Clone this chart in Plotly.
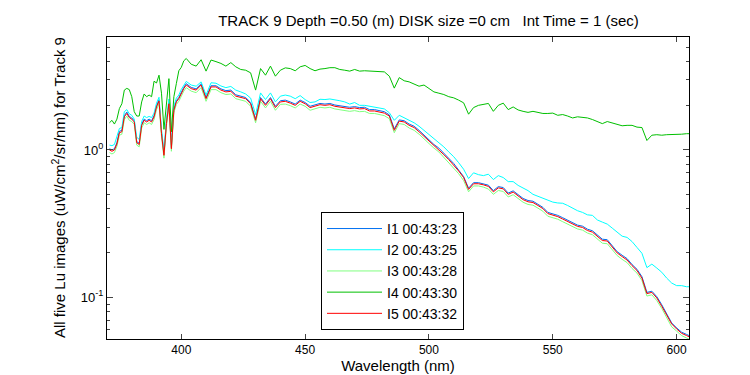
import plotly.graph_objects as go

wavelength = (list(range(371, 403)) + list(range(404, 605, 2)) + [605])

I1 = [1.02,1.00,1.02,1.12,1.34,1.36,1.71,1.81,1.69,1.65,1.58,1.14,1.11,1.50,1.62,1.58,1.62,1.58,1.71,2.00,2.19,1.32,0.94,1.54,2.10,1.04,1.90,2.16,2.27,2.49,2.66,2.82,
      2.66,2.60,2.82,2.27,2.73,2.73,2.60,2.53,2.55,2.37,2.32,2.27,2.10,1.62,2.27,2.05,2.27,1.98,2.16,2.18,
      2.12,2.05,2.18,2.10,1.98,2.02,2.07,2.05,2.07,2.02,2.00,1.98,1.95,1.97,1.94,1.95,1.88,1.88,1.85,1.82,
      1.73,1.39,1.60,1.58,1.50,1.45,1.36,1.26,1.17,1.09,1.03,0.95,0.88,0.81,0.73,0.66,0.55,0.60,0.60,0.59,
      0.577,0.53,0.564,0.556,0.51,0.528,0.50,0.469,0.454,0.449,0.428,0.408,0.377,0.370,0.360,0.347,0.334,0.319,0.309,0.304,
      0.290,0.283,0.263,0.248,0.246,0.225,0.204,0.193,0.183,0.167,0.155,0.138,0.108,0.110,0.101,0.089,0.078,0.067,0.062,0.058,0.056,0.055]

I2 = [1.08,1.07,1.09,1.22,1.40,1.42,1.82,1.88,1.76,1.72,1.62,1.22,1.18,1.56,1.70,1.66,1.69,1.66,1.78,2.08,2.28,1.38,0.99,1.62,2.22,1.09,1.98,2.25,2.36,2.58,2.76,2.92,
      2.76,2.71,2.90,2.36,2.86,2.84,2.72,2.65,2.70,2.55,2.48,2.40,2.25,1.74,2.44,2.20,2.44,2.12,2.32,2.36,
      2.32,2.23,2.34,2.20,2.10,2.12,2.21,2.20,2.22,2.20,2.16,2.12,2.05,2.10,2.01,2.01,1.98,1.96,1.94,1.90,
      1.79,1.59,1.72,1.66,1.59,1.53,1.45,1.36,1.28,1.19,1.12,1.05,0.97,0.90,0.82,0.74,0.64,0.70,0.68,0.67,
      0.685,0.63,0.67,0.65,0.61,0.61,0.575,0.55,0.53,0.50,0.485,0.465,0.452,0.443,0.437,0.435,0.42,0.403,0.387,0.377,
      0.363,0.36,0.335,0.324,0.314,0.295,0.276,0.26,0.255,0.239,0.218,0.199,0.159,0.168,0.158,0.148,0.135,0.125,0.12,0.12,0.118,0.118]

I3 = [0.96,0.94,0.96,1.06,1.26,1.28,1.61,1.70,1.59,1.56,1.49,1.08,1.05,1.41,1.53,1.49,1.53,1.49,1.61,1.88,2.06,1.24,0.88,1.45,1.98,0.98,1.79,2.04,2.14,2.34,2.51,2.65,
      2.51,2.45,2.65,2.14,2.57,2.57,2.45,2.38,2.40,2.23,2.18,2.14,1.98,1.53,2.14,1.93,2.14,1.86,2.04,2.05,
      2.00,1.93,2.05,1.98,1.86,1.90,1.95,1.93,1.95,1.90,1.88,1.86,1.83,1.85,1.82,1.83,1.77,1.77,1.74,1.71,
      1.63,1.31,1.51,1.49,1.41,1.36,1.28,1.19,1.10,1.03,0.97,0.89,0.83,0.76,0.69,0.62,0.52,0.57,0.57,0.56,
      0.543,0.50,0.531,0.523,0.48,0.497,0.47,0.442,0.427,0.422,0.403,0.384,0.355,0.348,0.339,0.326,0.314,0.300,0.291,0.286,
      0.273,0.266,0.248,0.233,0.231,0.212,0.192,0.181,0.172,0.157,0.146,0.130,0.102,0.104,0.095,0.084,0.073,0.063,0.059,0.055,0.053,0.052]

I4 = [1.53,1.59,1.50,1.62,1.91,2.06,2.55,2.62,2.57,2.30,1.82,1.70,1.70,2.12,2.40,2.30,2.36,2.30,2.93,2.85,3.22,2.43,1.38,2.06,3.05,1.33,2.30,2.82,3.45,3.64,4.03,4.18,
      3.82,3.71,4.10,3.43,4.08,3.98,3.87,3.71,3.92,3.67,3.52,3.48,3.34,2.55,3.57,3.22,3.71,3.17,3.48,3.61,
      3.57,3.45,3.67,3.75,3.57,3.45,3.54,3.57,3.62,3.62,3.52,3.48,3.43,3.52,3.43,3.45,3.44,3.45,3.44,3.39,
      3.17,2.63,3.10,2.95,2.90,2.82,2.71,2.76,2.62,2.48,2.43,2.38,2.30,2.26,2.18,2.09,1.75,1.94,2.01,2.05,
      2.07,1.83,2.01,2.08,1.88,1.96,1.87,1.83,1.80,1.83,1.80,1.77,1.77,1.78,1.72,1.74,1.70,1.65,1.68,1.67,
      1.65,1.61,1.56,1.51,1.56,1.53,1.50,1.46,1.47,1.47,1.43,1.42,1.16,1.26,1.27,1.26,1.27,1.27,1.27,1.28,1.29,1.29]

I5 = [1.00,0.98,1.00,1.10,1.31,1.33,1.68,1.77,1.66,1.62,1.55,1.12,1.09,1.47,1.59,1.55,1.59,1.55,1.68,1.96,2.15,1.29,0.92,1.51,2.06,1.02,1.86,2.12,2.23,2.44,2.61,2.76,
      2.61,2.55,2.76,2.23,2.68,2.68,2.55,2.48,2.50,2.32,2.27,2.23,2.06,1.59,2.23,2.01,2.23,1.94,2.12,2.14,
      2.08,2.01,2.14,2.06,1.94,1.98,2.03,2.01,2.03,1.98,1.96,1.94,1.91,1.93,1.90,1.91,1.84,1.84,1.81,1.78,
      1.70,1.36,1.57,1.55,1.47,1.42,1.33,1.24,1.15,1.07,1.01,0.93,0.86,0.79,0.72,0.65,0.54,0.59,0.59,0.58,
      0.566,0.52,0.553,0.545,0.50,0.518,0.49,0.46,0.445,0.44,0.42,0.40,0.37,0.363,0.353,0.34,0.327,0.313,0.303,0.298,
      0.284,0.277,0.258,0.243,0.241,0.221,0.20,0.189,0.179,0.164,0.152,0.135,0.106,0.108,0.099,0.087,0.076,0.066,0.061,0.057,0.055,0.054]

series_names = ["I1 00:43:23", "I2 00:43:25", "I3 00:43:28", "I4 00:43:30", "I5 00:43:32"]
series_values = [I1, I2, I3, I4, I5]
series_colors = ["#0070f0", "#00ffff", "#80ff80", "#00c000", "#ff0000"]

x_ticks = [400, 450, 500, 550, 600]
y_ticks = [0.1, 1]
y_ticktext = ["10<sup>-1</sup>", "10<sup>0</sup>"]
y_minor = [0.06, 0.07, 0.08, 0.09, 0.2, 0.3, 0.4, 0.5, 0.6, 0.7, 0.8, 0.9, 2, 3, 4, 5]

for v in series_values:
    assert len(v) == len(wavelength), (len(v), len(wavelength))

FONT = "Liberation Sans, Arial, sans-serif"

fig = go.Figure()
for name, vals, col in zip(series_names, series_values, series_colors):
    fig.add_trace(go.Scatter(x=wavelength, y=vals, mode="lines", name=name,
                             line=dict(color=col, width=1)))

fig.update_layout(
    width=750, height=375,
    margin=dict(l=99, r=69, t=29, b=44),
    paper_bgcolor="white", plot_bgcolor="white",
    font=dict(family=FONT, size=12, color="black"),
    showlegend=True,
    legend=dict(x=0.3677, y=0.03, xanchor="left", yanchor="bottom",
                bordercolor="black", borderwidth=1, bgcolor="white",
                font=dict(family=FONT, size=14, color="black"),
                tracegroupgap=0, itemwidth=55),
    title=dict(text="TRACK 9 Depth =0.50 (m) DISK size =0 cm\u00a0\u00a0\u00a0Int Time = 1 (sec)",
               x=0.5524, xref="paper", xanchor="center",
               y=1 - 13 / 375, yref="container", yanchor="middle",
               font=dict(family=FONT, size=15, color="black")),
    xaxis=dict(range=[370, 605], tickvals=x_ticks, ticks="inside", ticklen=5,
               showline=True, linecolor="black", linewidth=1, mirror="ticks",
               showgrid=False, zeroline=False,
               tickfont=dict(family=FONT, size=12),
               title=dict(text="Wavelength (nm)", standoff=3,
                          font=dict(family=FONT, size=15))),
    yaxis=dict(type="log", range=[-1.283, 0.767], tickvals=y_ticks, ticktext=y_ticktext,
               ticks="inside", ticklen=6,
               minor=dict(ticks="inside", ticklen=3, tickvals=y_minor, showgrid=False),
               showline=True, linecolor="black", linewidth=1, mirror="ticks",
               showgrid=False, zeroline=False,
               tickfont=dict(family=FONT, size=13)),
    annotations=[dict(text="All five Lu images (uW/cm<sup>2</sup>/sr/nm) for Track 9",
                      xref="paper", yref="paper", x=(50 - 99) / 582, y=0.5,
                      xanchor="center", yanchor="middle", textangle=-90, showarrow=False,
                      font=dict(family=FONT, size=15, color="black"))],
)

fig.write_html("out.html")
